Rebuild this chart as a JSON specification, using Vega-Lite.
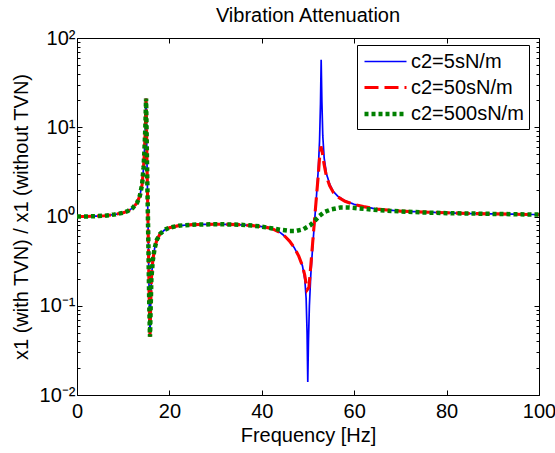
{
  "$schema": "https://vega.github.io/schema/vega-lite/v6.json",
  "width": 462,
  "height": 357,
  "autosize": {"type": "none"},
  "padding": {"left": 77, "top": 38, "right": 16, "bottom": 58},
  "background": "white",
  "config": {
    "font": "Liberation Sans",
    "view": {"stroke": "black", "strokeWidth": 1},
    "axis": {"domain": false, "grid": false, "labelFontSize": 20, "titleFontSize": 20, "titleFontWeight": "normal", "labelColor": "black", "titleColor": "black", "tickColor": "black"},
    "title": {"fontSize": 20, "fontWeight": "normal", "color": "black", "offset": 2}
  },
  "title": "Vibration Attenuation",
  "data": {"values": [
    {"s":"c2=5sN/m","f":0,"v":1.0},{"s":"c2=5sN/m","f":2,"v":1.0},{"s":"c2=5sN/m","f":4,"v":1.01},{"s":"c2=5sN/m","f":6,"v":1.02},{"s":"c2=5sN/m","f":8,"v":1.05},{"s":"c2=5sN/m","f":10,"v":1.1},{"s":"c2=5sN/m","f":11,"v":1.15},{"s":"c2=5sN/m","f":12,"v":1.24},{"s":"c2=5sN/m","f":13,"v":1.42},{"s":"c2=5sN/m","f":13.6,"v":1.7},{"s":"c2=5sN/m","f":14.1,"v":2.3},{"s":"c2=5sN/m","f":14.4,"v":3.5},{"s":"c2=5sN/m","f":14.6,"v":5.5},{"s":"c2=5sN/m","f":14.8,"v":10},{"s":"c2=5sN/m","f":14.95,"v":21},{"s":"c2=5sN/m","f":15.05,"v":10},{"s":"c2=5sN/m","f":15.15,"v":4},{"s":"c2=5sN/m","f":15.25,"v":2},{"s":"c2=5sN/m","f":15.35,"v":1},{"s":"c2=5sN/m","f":15.45,"v":0.5},{"s":"c2=5sN/m","f":15.55,"v":0.22},{"s":"c2=5sN/m","f":15.65,"v":0.1},{"s":"c2=5sN/m","f":15.8,"v":0.045},{"s":"c2=5sN/m","f":15.95,"v":0.1},{"s":"c2=5sN/m","f":16.1,"v":0.2},{"s":"c2=5sN/m","f":16.4,"v":0.32},{"s":"c2=5sN/m","f":16.8,"v":0.44},{"s":"c2=5sN/m","f":17.3,"v":0.55},{"s":"c2=5sN/m","f":18,"v":0.64},{"s":"c2=5sN/m","f":19,"v":0.71},{"s":"c2=5sN/m","f":20,"v":0.75},{"s":"c2=5sN/m","f":22,"v":0.79},{"s":"c2=5sN/m","f":25,"v":0.81},{"s":"c2=5sN/m","f":30,"v":0.82},{"s":"c2=5sN/m","f":35,"v":0.81},{"s":"c2=5sN/m","f":38,"v":0.79},{"s":"c2=5sN/m","f":40,"v":0.77},{"s":"c2=5sN/m","f":42,"v":0.74},{"s":"c2=5sN/m","f":44,"v":0.66},{"s":"c2=5sN/m","f":45,"v":0.6},{"s":"c2=5sN/m","f":46,"v":0.53},{"s":"c2=5sN/m","f":47,"v":0.45},{"s":"c2=5sN/m","f":48,"v":0.36},{"s":"c2=5sN/m","f":48.8,"v":0.28},{"s":"c2=5sN/m","f":49.3,"v":0.2},{"s":"c2=5sN/m","f":49.6,"v":0.12},{"s":"c2=5sN/m","f":49.8,"v":0.05},{"s":"c2=5sN/m","f":49.95,"v":0.014},{"s":"c2=5sN/m","f":50.1,"v":0.04},{"s":"c2=5sN/m","f":50.3,"v":0.1},{"s":"c2=5sN/m","f":50.6,"v":0.22},{"s":"c2=5sN/m","f":51,"v":0.45},{"s":"c2=5sN/m","f":51.4,"v":0.85},{"s":"c2=5sN/m","f":51.8,"v":1.6},{"s":"c2=5sN/m","f":52.2,"v":3.2},{"s":"c2=5sN/m","f":52.5,"v":7},{"s":"c2=5sN/m","f":52.7,"v":18},{"s":"c2=5sN/m","f":52.85,"v":57},{"s":"c2=5sN/m","f":53.0,"v":20},{"s":"c2=5sN/m","f":53.2,"v":8},{"s":"c2=5sN/m","f":53.5,"v":4.5},{"s":"c2=5sN/m","f":54,"v":3},{"s":"c2=5sN/m","f":54.7,"v":2.3},{"s":"c2=5sN/m","f":55.5,"v":1.9},{"s":"c2=5sN/m","f":56.5,"v":1.68},{"s":"c2=5sN/m","f":58,"v":1.5},{"s":"c2=5sN/m","f":60,"v":1.37},{"s":"c2=5sN/m","f":62,"v":1.29},{"s":"c2=5sN/m","f":65,"v":1.21},{"s":"c2=5sN/m","f":70,"v":1.15},{"s":"c2=5sN/m","f":75,"v":1.12},{"s":"c2=5sN/m","f":80,"v":1.1},{"s":"c2=5sN/m","f":85,"v":1.08},{"s":"c2=5sN/m","f":90,"v":1.07},{"s":"c2=5sN/m","f":95,"v":1.06},{"s":"c2=5sN/m","f":100,"v":1.05},

    {"s":"c2=50sN/m","f":0,"v":1.0},{"s":"c2=50sN/m","f":2,"v":1.0},{"s":"c2=50sN/m","f":4,"v":1.01},{"s":"c2=50sN/m","f":6,"v":1.02},{"s":"c2=50sN/m","f":8,"v":1.05},{"s":"c2=50sN/m","f":10,"v":1.1},{"s":"c2=50sN/m","f":11,"v":1.15},{"s":"c2=50sN/m","f":12,"v":1.24},{"s":"c2=50sN/m","f":13,"v":1.42},{"s":"c2=50sN/m","f":13.6,"v":1.7},{"s":"c2=50sN/m","f":14.1,"v":2.3},{"s":"c2=50sN/m","f":14.4,"v":3.5},{"s":"c2=50sN/m","f":14.6,"v":5.5},{"s":"c2=50sN/m","f":14.8,"v":10},{"s":"c2=50sN/m","f":14.95,"v":21},{"s":"c2=50sN/m","f":15.05,"v":10},{"s":"c2=50sN/m","f":15.15,"v":4},{"s":"c2=50sN/m","f":15.25,"v":2},{"s":"c2=50sN/m","f":15.35,"v":1},{"s":"c2=50sN/m","f":15.45,"v":0.5},{"s":"c2=50sN/m","f":15.55,"v":0.22},{"s":"c2=50sN/m","f":15.65,"v":0.1},{"s":"c2=50sN/m","f":15.8,"v":0.045},{"s":"c2=50sN/m","f":15.95,"v":0.1},{"s":"c2=50sN/m","f":16.1,"v":0.2},{"s":"c2=50sN/m","f":16.4,"v":0.32},{"s":"c2=50sN/m","f":16.8,"v":0.44},{"s":"c2=50sN/m","f":17.3,"v":0.55},{"s":"c2=50sN/m","f":18,"v":0.64},{"s":"c2=50sN/m","f":19,"v":0.71},{"s":"c2=50sN/m","f":20,"v":0.75},{"s":"c2=50sN/m","f":22,"v":0.79},{"s":"c2=50sN/m","f":25,"v":0.81},{"s":"c2=50sN/m","f":30,"v":0.82},{"s":"c2=50sN/m","f":35,"v":0.81},{"s":"c2=50sN/m","f":38,"v":0.79},{"s":"c2=50sN/m","f":40,"v":0.77},{"s":"c2=50sN/m","f":42,"v":0.74},{"s":"c2=50sN/m","f":44,"v":0.66},{"s":"c2=50sN/m","f":45,"v":0.6},{"s":"c2=50sN/m","f":46,"v":0.53},{"s":"c2=50sN/m","f":47,"v":0.45},{"s":"c2=50sN/m","f":48,"v":0.36},{"s":"c2=50sN/m","f":48.8,"v":0.28},{"s":"c2=50sN/m","f":49.3,"v":0.22},{"s":"c2=50sN/m","f":49.8,"v":0.15},{"s":"c2=50sN/m","f":50.2,"v":0.16},{"s":"c2=50sN/m","f":50.6,"v":0.28},{"s":"c2=50sN/m","f":51,"v":0.5},{"s":"c2=50sN/m","f":51.4,"v":0.9},{"s":"c2=50sN/m","f":51.8,"v":1.6},{"s":"c2=50sN/m","f":52.2,"v":2.8},{"s":"c2=50sN/m","f":52.5,"v":4.5},{"s":"c2=50sN/m","f":52.8,"v":6.1},{"s":"c2=50sN/m","f":53.1,"v":5.2},{"s":"c2=50sN/m","f":53.5,"v":3.8},{"s":"c2=50sN/m","f":54,"v":2.8},{"s":"c2=50sN/m","f":54.7,"v":2.2},{"s":"c2=50sN/m","f":55.5,"v":1.85},{"s":"c2=50sN/m","f":56.5,"v":1.65},{"s":"c2=50sN/m","f":58,"v":1.48},{"s":"c2=50sN/m","f":60,"v":1.36},{"s":"c2=50sN/m","f":62,"v":1.29},{"s":"c2=50sN/m","f":65,"v":1.21},{"s":"c2=50sN/m","f":70,"v":1.15},{"s":"c2=50sN/m","f":75,"v":1.12},{"s":"c2=50sN/m","f":80,"v":1.1},{"s":"c2=50sN/m","f":85,"v":1.08},{"s":"c2=50sN/m","f":90,"v":1.07},{"s":"c2=50sN/m","f":95,"v":1.06},{"s":"c2=50sN/m","f":100,"v":1.05},

    {"s":"c2=500sN/m","f":0,"v":1.0},{"s":"c2=500sN/m","f":2,"v":1.0},{"s":"c2=500sN/m","f":4,"v":1.01},{"s":"c2=500sN/m","f":6,"v":1.02},{"s":"c2=500sN/m","f":8,"v":1.05},{"s":"c2=500sN/m","f":10,"v":1.1},{"s":"c2=500sN/m","f":11,"v":1.15},{"s":"c2=500sN/m","f":12,"v":1.24},{"s":"c2=500sN/m","f":13,"v":1.42},{"s":"c2=500sN/m","f":13.6,"v":1.7},{"s":"c2=500sN/m","f":14.1,"v":2.3},{"s":"c2=500sN/m","f":14.4,"v":3.5},{"s":"c2=500sN/m","f":14.6,"v":5.5},{"s":"c2=500sN/m","f":14.8,"v":10},{"s":"c2=500sN/m","f":14.95,"v":21},{"s":"c2=500sN/m","f":15.05,"v":10},{"s":"c2=500sN/m","f":15.15,"v":4},{"s":"c2=500sN/m","f":15.25,"v":2},{"s":"c2=500sN/m","f":15.35,"v":1},{"s":"c2=500sN/m","f":15.45,"v":0.5},{"s":"c2=500sN/m","f":15.55,"v":0.22},{"s":"c2=500sN/m","f":15.65,"v":0.1},{"s":"c2=500sN/m","f":15.8,"v":0.045},{"s":"c2=500sN/m","f":15.95,"v":0.1},{"s":"c2=500sN/m","f":16.1,"v":0.2},{"s":"c2=500sN/m","f":16.4,"v":0.32},{"s":"c2=500sN/m","f":16.8,"v":0.44},{"s":"c2=500sN/m","f":17.3,"v":0.55},{"s":"c2=500sN/m","f":18,"v":0.64},{"s":"c2=500sN/m","f":19,"v":0.71},{"s":"c2=500sN/m","f":20,"v":0.75},{"s":"c2=500sN/m","f":22,"v":0.79},{"s":"c2=500sN/m","f":25,"v":0.81},{"s":"c2=500sN/m","f":30,"v":0.82},{"s":"c2=500sN/m","f":35,"v":0.81},{"s":"c2=500sN/m","f":38,"v":0.79},{"s":"c2=500sN/m","f":40,"v":0.77},{"s":"c2=500sN/m","f":42,"v":0.74},{"s":"c2=500sN/m","f":44,"v":0.71},{"s":"c2=500sN/m","f":46,"v":0.69},{"s":"c2=500sN/m","f":47.5,"v":0.69},{"s":"c2=500sN/m","f":49,"v":0.72},{"s":"c2=500sN/m","f":50.5,"v":0.8},{"s":"c2=500sN/m","f":51.5,"v":0.9},{"s":"c2=500sN/m","f":52.5,"v":1.02},{"s":"c2=500sN/m","f":53.5,"v":1.12},{"s":"c2=500sN/m","f":55,"v":1.2},{"s":"c2=500sN/m","f":57,"v":1.26},{"s":"c2=500sN/m","f":59,"v":1.26},{"s":"c2=500sN/m","f":62,"v":1.22},{"s":"c2=500sN/m","f":65,"v":1.18},{"s":"c2=500sN/m","f":70,"v":1.14},{"s":"c2=500sN/m","f":75,"v":1.11},{"s":"c2=500sN/m","f":80,"v":1.09},{"s":"c2=500sN/m","f":85,"v":1.08},{"s":"c2=500sN/m","f":90,"v":1.07},{"s":"c2=500sN/m","f":95,"v":1.06},{"s":"c2=500sN/m","f":100,"v":1.05}
  ]},
  "encoding": {
    "x": {"field": "f", "type": "quantitative", "scale": {"domain": [0, 100], "nice": false}},
    "y": {"field": "v", "type": "quantitative", "scale": {"type": "log", "domain": [0.01, 100], "nice": false}},
    "color": {"field": "s", "type": "nominal", "scale": {"domain": ["c2=5sN/m", "c2=50sN/m", "c2=500sN/m"], "range": ["#0000ff", "#ff0000", "#008000"]},
      "legend": {"title": null, "orient": "none", "legendX": 280, "legendY": 7, "symbolType": "M-1,0H3", "symbolSize": 441, "labelFontSize": 20, "labelColor": "black", "strokeColor": "black", "fillColor": "white", "padding": 5, "rowPadding": 3, "labelOffset": 23, "labelLimit": 250}},
    "strokeDash": {"field": "s", "type": "nominal", "scale": {"domain": ["c2=5sN/m", "c2=50sN/m", "c2=500sN/m"], "range": [[1, 0], [14, 6], [4, 3]]}},
    "strokeWidth": {"field": "s", "type": "nominal", "scale": {"domain": ["c2=5sN/m", "c2=50sN/m", "c2=500sN/m"], "range": [1.7, 4.5, 3.5]}}
  },
  "layer": [
    {
      "transform": [{"filter": "datum.s == 'c2=5sN/m'"}],
      "mark": {"type": "line", "clip": true},
      "encoding": {
        "x": {"field": "f", "type": "quantitative", "title": "Frequency [Hz]",
          "axis": {"values": [0, 20, 40, 60, 80, 100], "tickSize": -5, "labelPadding": 11, "titlePadding": 4, "labelFlush": false}},
        "y": {"field": "v", "type": "quantitative", "title": "x1 (with TVN) / x1 (without TVN)",
          "axis": {"values": [0.01,0.02,0.03,0.04,0.05,0.06,0.07,0.08,0.09,0.1,0.2,0.3,0.4,0.5,0.6,0.7,0.8,0.9,1,2,3,4,5,6,7,8,9,10,20,30,40,50,60,70,80,90,100],
            "labelExpr": "datum.value == 100 ? '10²' : datum.value == 10 ? '10¹' : datum.value == 1 ? '10⁰' : datum.value == 0.1 ? '10⁻¹' : datum.value == 0.01 ? '10⁻²' : ''",
            "labelOverlap": false, "labelFlush": false,
            "tickSize": {"condition": {"test": "datum.value == 100 || datum.value == 10 || datum.value == 1 || datum.value == 0.1 || datum.value == 0.01", "value": -5}, "value": -3},
            "labelPadding": 7, "titlePadding": 8}}
      }
    },
    {
      "transform": [{"filter": "datum.s == 'c2=50sN/m'"}],
      "mark": {"type": "line", "clip": true},
      "encoding": {
        "x": {"field": "f", "type": "quantitative", "axis": null},
        "y": {"field": "v", "type": "quantitative", "axis": null}
      }
    },
    {
      "transform": [{"filter": "datum.s == 'c2=500sN/m'"}],
      "mark": {"type": "line", "clip": true},
      "encoding": {
        "x": {"field": "f", "type": "quantitative", "title": null,
          "axis": {"orient": "top", "values": [0, 20, 40, 60, 80, 100], "tickSize": -5, "labels": false}},
        "y": {"field": "v", "type": "quantitative", "title": null,
          "axis": {"orient": "right", "labels": false,
            "values": [0.01,0.02,0.03,0.04,0.05,0.06,0.07,0.08,0.09,0.1,0.2,0.3,0.4,0.5,0.6,0.7,0.8,0.9,1,2,3,4,5,6,7,8,9,10,20,30,40,50,60,70,80,90,100],
            "tickSize": {"condition": {"test": "datum.value == 100 || datum.value == 10 || datum.value == 1 || datum.value == 0.1 || datum.value == 0.01", "value": -5}, "value": -3}}}
      }
    }
  ],
  "resolve": {"axis": {"x": "independent", "y": "independent"}}
}
